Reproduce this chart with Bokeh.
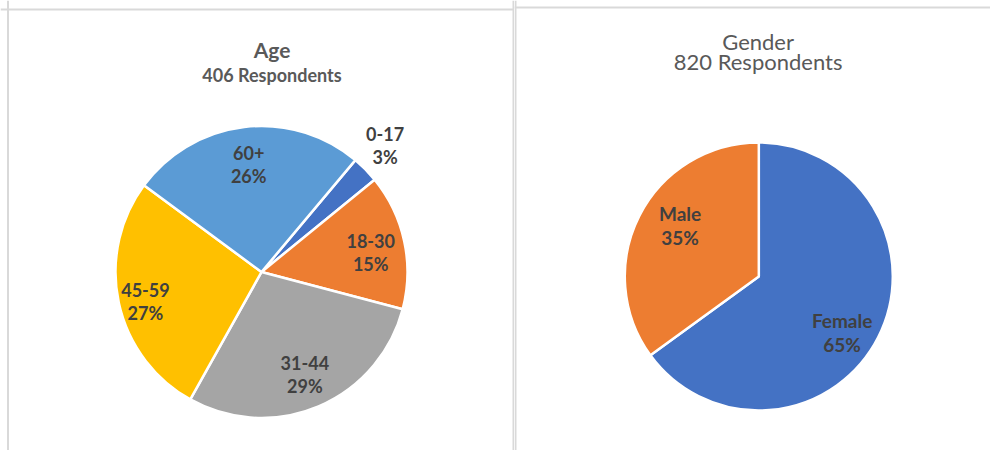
import math
from bokeh.plotting import figure
from bokeh.layouts import row
from bokeh.models import Range1d, Span, Label, ColumnDataSource
from bokeh.core.properties import value
from bokeh.embed import file_html
from bokeh.resources import INLINE

# ---- data ----
age_title = "Age"
age_subtitle = "406 Respondents"
age_labels = ["0-17", "18-30", "31-44", "45-59", "60+"]
age_pct = [3, 15, 29, 27, 26]
age_colors = ["#4472C4", "#ED7D31", "#A5A5A5", "#FFC000", "#5B9BD5"]

gender_title = "Gender"
gender_subtitle = "820 Respondents"
gender_labels = ["Female", "Male"]
gender_pct = [65, 35]
gender_colors = ["#4472C4", "#ED7D31"]

FONT = "Lato"
BORDER = "#d9d9d9"


def pie_source(labels, pct, colors, first_angle_deg, label_r, label_adj):
    total = float(sum(pct))
    starts, ends, lx, ly, txt = [], [], [], [], []
    a = math.radians(first_angle_deg)
    for lab, v, rf, adj in zip(labels, pct, label_r, label_adj):
        sweep = 2 * math.pi * v / total
        s, e = a, a - sweep
        starts.append(s)
        ends.append(e)
        mid = (s + e) / 2 + math.radians(adj)
        lx.append(rf * math.cos(mid))
        ly.append(rf * math.sin(mid))
        txt.append(f"{lab}\n{v}%")
        a = e
    return ColumnDataSource(dict(start=starts, end=ends, color=colors,
                                 lx=lx, ly=ly, text=txt))


def make_panel(width, height, xr, yr, radius, src, title, subtitle,
               title_pos, title_style, label_size, label_lh, borders):
    p = figure(width=width, height=height, output_backend="svg",
               toolbar_location=None, x_range=Range1d(*xr), y_range=Range1d(*yr),
               min_border=0, outline_line_color=None)
    p.axis.visible = False
    p.grid.visible = False
    p.wedge(x=0, y=0, radius=radius, start_angle="start", end_angle="end",
            direction="clock", fill_color="color", line_color="white",
            line_width=2.5, source=src)
    p.text(x="lx", y="ly", text="text", source=src, text_align="center",
           text_baseline="middle", text_font=value(FONT),
           text_font_style="bold", text_font_size=label_size,
           text_color="#404040", text_line_height=label_lh)
    tx, ty1, ty2 = title_pos
    fs1, fs2, style = title_style
    p.add_layout(Label(x=tx, y=ty1, text=title, text_align="center",
                       text_baseline="middle", text_font=FONT,
                       text_font_size=fs1, text_font_style=style,
                       text_color="#595959"))
    p.add_layout(Label(x=tx, y=ty2, text=subtitle, text_align="center",
                       text_baseline="middle", text_font=FONT,
                       text_font_size=fs2, text_font_style=style,
                       text_color="#595959"))
    lx, rx, ty = borders
    for loc in (lx, rx):
        if loc is not None:
            p.add_layout(Span(location=loc, dimension="height",
                              line_color=BORDER, line_width=2))
    p.add_layout(Span(location=ty, dimension="width",
                      line_color=BORDER, line_width=2))
    return p


R1 = 146
age_src = pie_source(age_labels, age_pct, age_colors, 50,
                     [1.21 * R1, 0.76 * R1, 0.76 * R1, 0.82 * R1, 0.74 * R1],
                     [1, -2, 0, 2, 0])
p1 = make_panel(514, 450, (-261, 253), (-178.5, 271.5), R1, age_src,
                age_title, age_subtitle, (10.5, 222.8, 197.3),
                ("21px", "18px", "bold"), "18px", 1.04,
                (-253.5, 252, 262.5))

R2 = 134
gender_src = pie_source(gender_labels, gender_pct, gender_colors, 90,
                        [0.75 * R2, 0.70 * R2], [-7, -6])
p2 = make_panel(476, 450, (-244.3, 231.7), (-174, 276), R2, gender_src,
                gender_title, gender_subtitle, (-0.7, 235.5, 215.5),
                ("22px", "22px", "normal"), "19px", 1.02,
                (-243.3, None, 269))

layout = row(p1, p2)
open("out.html", "w").write(file_html(layout, INLINE))
